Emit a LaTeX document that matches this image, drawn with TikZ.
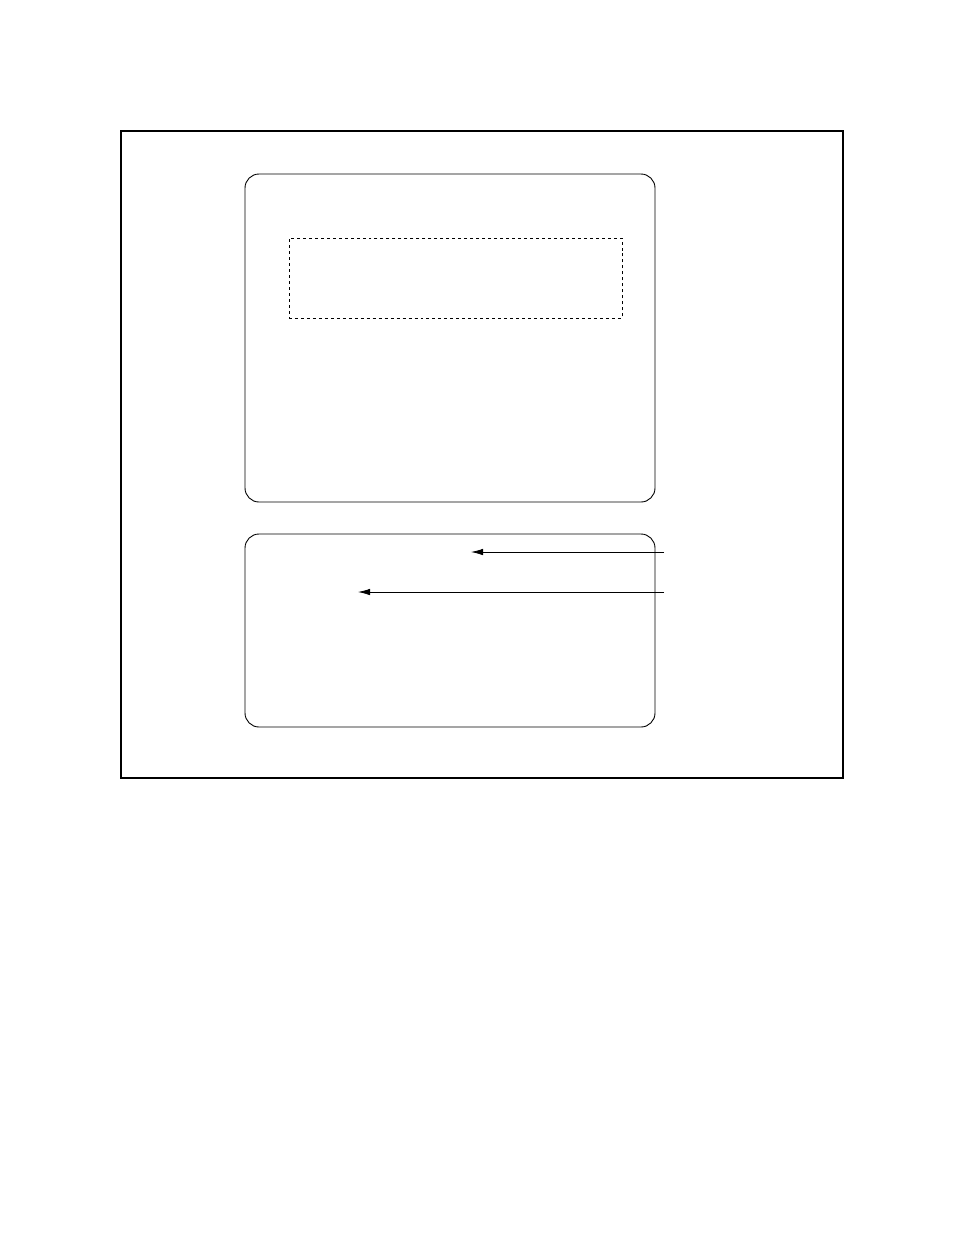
\documentclass[tikz,border=0pt]{standalone}
\usetikzlibrary{arrows.meta}
\begin{document}
\begin{tikzpicture}[x=1bp,y=-1bp,
  panel/.style={draw,rounded corners=14bp,line width=0.9bp,inner sep=0pt,minimum width=410bp},
  slot/.style={draw,dashed,line width=0.8bp,inner sep=0pt},
  pointer/.style={-{Latex[length=12bp,width=6.5bp]},line width=0.8bp}]
\useasboundingbox (0,0) rectangle (954,1235);
% OUTER FRAME
\node [draw,line width=1.3bp,inner sep=0pt,minimum width=722bp,minimum height=647bp] (frame) at (482,454.5) {};
% UPPER PANEL AND ITS DASHED SLOT
\node [panel,minimum height=328bp] (upper) at (450,338) {};
\node [slot,minimum width=333bp,minimum height=80bp] (slot) at (455.5,278) {};
% LOWER PANEL
\node [panel,minimum height=193bp] (lower) at (450,630.5) {};
% POINTERS INTO LOWER PANEL
\coordinate (tailA) at (664,552);
\coordinate (tipA) at (471,552);
\coordinate (tailB) at (664,592);
\coordinate (tipB) at (358,592);
\draw [pointer] (tailA) -- (tipA);
\draw [pointer] (tailB) -- (tipB);
\end{tikzpicture}
\end{document}
